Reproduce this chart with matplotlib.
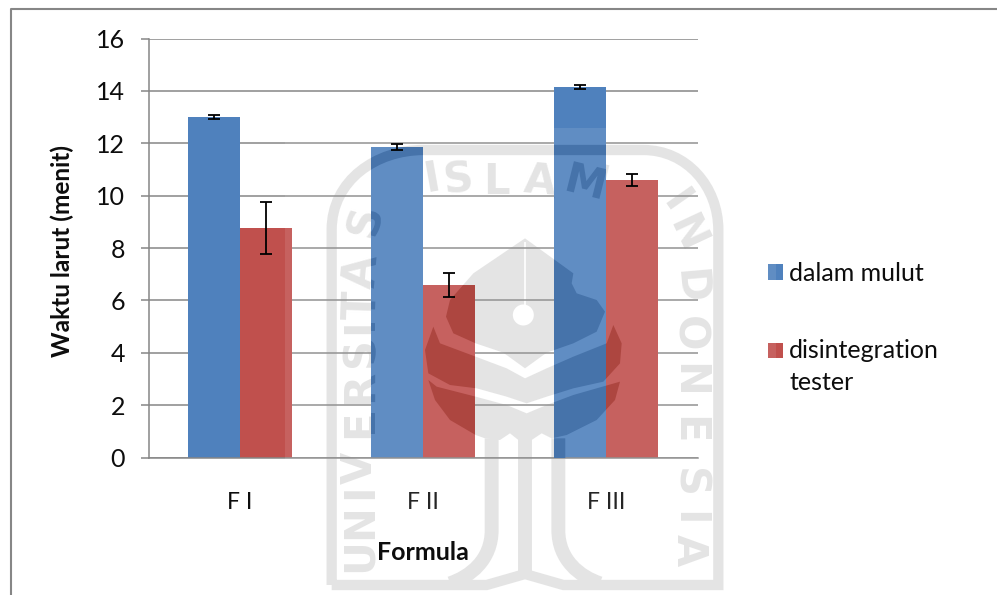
import matplotlib
matplotlib.use("Agg")
import matplotlib.pyplot as plt
import numpy as np
from matplotlib.patches import PathPatch, Rectangle
from matplotlib.path import Path
from matplotlib.textpath import TextPath
from matplotlib.font_manager import FontProperties
from matplotlib.transforms import Affine2D, IdentityTransform

categories = ["F I", "F II", "F III"]
dalam_mulut = [13.0, 11.86, 14.15]
dalam_mulut_err = [0.07, 0.13, 0.07]
disintegration = [8.76, 6.57, 10.58]
disintegration_err = [1.0, 0.46, 0.23]
y_ticks = [0, 2, 4, 6, 8, 10, 12, 14, 16]

plt.rcParams["font.family"] = ["Lato", "DejaVu Sans"]
W, H = 997, 595
BLUE, RED = "#4f81bd", "#c0504d"
GRID = "#868686"
INK = "#0d0d0d"
fig = plt.figure(figsize=(W / 100, H / 100), dpi=100)
ax = fig.add_axes([148.5 / W, 1 - 457.5 / H, 549 / W, 419 / H])
ax.patch.set_visible(False)
pix = Affine2D().scale(1, -1).translate(0, H)

# ---- decorative watermark geometry (image pixels derived from a crop)
def z(*pts):
    return [(310 + x / 3, 130 + y / 3) for x, y in pts]

def poly(*pts):
    p = z(*pts)
    return Path(p + [p[0]], [Path.MOVETO] + [Path.LINETO] * (len(p) - 1) + [Path.CLOSEPOLY])

fills = [
    poly((645, 325), (490, 430), (420, 510), (408, 560), (430, 610), (497, 640), (580, 668), (645, 715),
         (710, 668), (790, 640), (860, 605), (885, 545), (860, 510), (800, 490), (785, 460), (790, 430)),
    poly((370, 590), (390, 640), (497, 680), (590, 715), (645, 745), (710, 715), (790, 680), (890, 640),
         (910, 585), (935, 640), (930, 700), (880, 755), (790, 775), (710, 800), (650, 820), (590, 800),
         (500, 775), (420, 765), (355, 730), (345, 660)),
    poly((355, 750), (380, 770), (497, 800), (590, 825), (650, 850), (710, 825), (790, 795), (930, 755),
         (915, 810), (860, 870), (770, 915), (725, 925), (695, 910), (665, 930), (625, 930), (600, 910),
         (570, 930), (525, 925), (497, 915), (420, 870), (375, 810)),
]
fill_path = Path.make_compound_path(*fills)

M, L, C, = Path.MOVETO, Path.LINETO, Path.CURVE4
shield = Path(z((65, 1365), (65, 300), (65, 150), (200, 60), (340, 60), (1000, 60), (1130, 60), (1225, 170),
                (1225, 300), (1225, 1365), (760, 1365), (645, 1332), (530, 1365), (65, 1365)),
              [M, L, C, C, C, L, C, C, C, L, L, L, L, L])
stem_l = Path(z((545, 925), (545, 1200), (545, 1290), (480, 1340), (420, 1360)), [M, L, C, C, C])
stem_r = Path(z((745, 925), (745, 1200), (745, 1290), (810, 1340), (870, 1360)), [M, L, C, C, C])
stem_c = Path(z((645, 925), (645, 1335)), [M, L])
strokes = [(shield, 7.4), (stem_l, 10), (stem_r, 10), (stem_c, 10)]

letters = [("U", 150, 1275, 90), ("N", 150, 1175, 90), ("I", 150, 1085, 90), ("V", 150, 1015, 90),
           ("E", 150, 880, 90), ("R", 150, 775, 90), ("S", 150, 665, 90), ("I", 150, 590, 90),
           ("T", 150, 525, 88), ("A", 150, 425, 85), ("S", 165, 275, 75),
           ("I", 365, 145, 10), ("S", 445, 150, 6), ("L", 560, 155, 0), ("A", 690, 155, -5), ("M", 830, 150, -14),
           ("I", 1095, 215, -55), ("N", 1130, 310, -65), ("D", 1140, 470, -85), ("O", 1135, 610, -90),
           ("N", 1135, 750, -90), ("E", 1135, 900, -90), ("S", 1135, 1060, -90), ("I", 1135, 1165, -90),
           ("A", 1135, 1260, -90)]
WM_FS = 30
wm_font = FontProperties(family="DejaVu Sans", weight="bold", size=WM_FS)

def add_fill(color, zorder, clip=None):
    out = [PathPatch(fill_path, fc=color, ec="none", transform=pix, zorder=zorder, clip_on=False)]
    for path, lw in strokes:
        out.append(PathPatch(path, fc="none", ec=color, lw=lw, transform=pix, zorder=zorder,
                             clip_on=False, capstyle="butt"))
    for a in out:
        ax.add_patch(a)
        if clip is not None:
            a.set_clip_on(True)
            a.set_clip_path(*clip)
    return out

BASE = "#e2e2e2"
add_fill(BASE, 0.2)
# white disc and slit of the emblem
ax.add_patch(PathPatch(Path.circle((310 + 640 / 3, 130 + 555 / 3), 10.5), fc="white", ec="none",
                       transform=pix, zorder=0.25, clip_on=False))
ax.add_patch(PathPatch(Path(z((645, 335), (645, 530))), fc="none", ec="white", lw=1.2, transform=pix,
                       zorder=0.25, clip_on=False))
for s, zx, zy, rot in letters:
    x, y = z((zx, zy))[0]
    ax.text(x, y, s, transform=pix, rotation=rot, rotation_mode="anchor", ha="center", va="center",
            fontproperties=wm_font, color=BASE, zorder=0.2, clip_on=False)

# ---- chart
x = np.arange(len(categories))
width = 52 / 183
ax.set_axisbelow(True)
b1 = ax.bar(x - width / 2, dalam_mulut, width, color=BLUE, label="dalam mulut", zorder=2)
b2 = ax.bar(x + width / 2, disintegration, width, color=RED, label="disintegration\ntester", zorder=2)
ax.errorbar(x - width / 2, dalam_mulut, yerr=dalam_mulut_err, fmt="none", ecolor="black",
            elinewidth=1.3, capsize=4.3, capthick=1.3, zorder=6)
ax.errorbar(x + width / 2, disintegration, yerr=disintegration_err, fmt="none", ecolor="black",
            elinewidth=1.3, capsize=4.3, capthick=1.3, zorder=6)
ax.set_xlim(-0.5, 2.5)
ax.set_ylim(0, 16)
ax.set_yticks(y_ticks)
ax.set_xticks(x)
ax.set_xticklabels(categories, fontsize=16.5, color=INK)
ax.tick_params(axis="x", length=0, pad=25)
ax.tick_params(axis="y", length=5.8, width=1.1, color=GRID, labelsize=18, pad=11, labelcolor=INK)
ax.grid(axis="y", color=GRID, lw=1.1)
for s in ["top", "right"]:
    ax.spines[s].set_visible(False)
for s in ["left", "bottom"]:
    ax.spines[s].set_color(GRID)
    ax.spines[s].set_linewidth(1.1)
fig.text(62 / W, 1 - 251 / H, "Waktu larut (menit)", rotation=90, ha="center", va="center",
         fontsize=17.6, fontweight="bold", color=INK)
fig.text(423 / W, 1 - 553 / H, "Formula", ha="center", va="center", fontsize=18, fontweight="bold",
         color=INK)

# light veil of the scan over the watermark area
ax.add_patch(Rectangle((285, 128), 491, 467, fc="white", ec="none", alpha=0.10, transform=pix,
                       zorder=3, clip_on=False))

# darker watermark where it crosses the bars
for bars, col in [(b1, "#4673aa"), (b2, "#ad4640")]:
    rects = [Path.unit_rectangle().transformed(
        Affine2D().scale(r.get_width(), r.get_height()).translate(r.get_x(), r.get_y())) for r in bars]
    clip = (Path.make_compound_path(*rects), ax.transData)
    add_fill(col, 4, clip)
    for s, zx, zy, rot in letters:
        px, py = z((zx, zy))[0]
        tp = TextPath((0, 0), s, size=WM_FS * 100 / 72, prop=wm_font)
        e = tp.get_extents()
        tr = Affine2D().translate(-(e.x0 + e.x1) / 2, -(e.y0 + e.y1) / 2).rotate_deg(rot).translate(px, H - py)
        pp = PathPatch(tp.transformed(tr), fc=col, ec="none", transform=IdentityTransform(), zorder=4)
        ax.add_patch(pp)
        pp.set_clip_path(*clip)

leg = ax.legend(loc="upper left", bbox_to_anchor=(768 / W, 1 - 262 / H), bbox_transform=fig.transFigure,
                frameon=False, fontsize=18, labelspacing=2.15, handlelength=0.58, handleheight=0.58,
                handletextpad=0.27, borderpad=0, borderaxespad=0, labelcolor=INK)
leg.set_zorder(2.5)
leg.get_texts()[1].set_linespacing(1.5)
h2 = leg.legend_handles[1]
h2.set_y(h2.get_y() + 12)

# outer chart frame
fig.add_artist(plt.Line2D([10.5 / W, 10.5 / W, 1], [0, 1 - 9 / H, 1 - 9 / H], color=GRID, lw=1.5))
fig.savefig("out.png", dpi=100)
